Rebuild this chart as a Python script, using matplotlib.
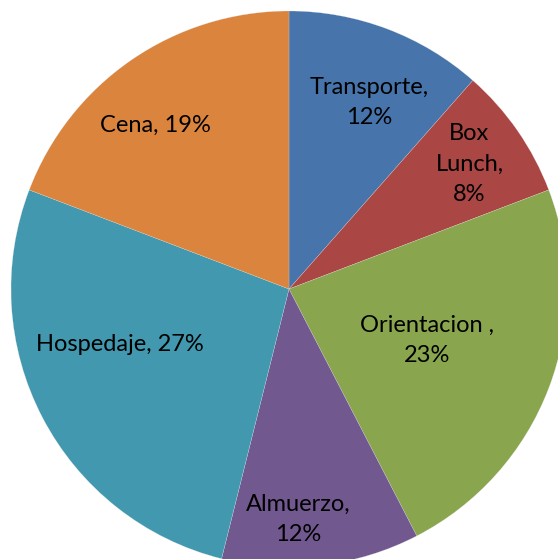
import matplotlib
matplotlib.use("Agg")
import matplotlib.pyplot as plt
import numpy as np

# slice data, clockwise from 12 o'clock
categories = ["Transporte", "Box Lunch", "Orientacion", "Almuerzo", "Hospedaje", "Cena"]
values = [11.5, 7.7, 23.2, 11.5, 26.9, 19.2]
label_texts = ["Transporte,\n12%", "Box\nLunch,\n8%", "Orientacion ,\n23%",
               "Almuerzo,\n12%", "Hospedaje, 27%", "Cena, 19%"]
colors = ["#4674AB", "#AA4643", "#89A54E", "#71588F", "#4198AF", "#DB843D"]

plt.rcParams['font.family'] = ['Lato', 'DejaVu Sans']

fig = plt.figure(figsize=(5.58, 5.59), dpi=100)
ax = fig.add_axes([11/558, -8/559, 556/558, 556/559])

wedges, _ = ax.pie(values, colors=colors, startangle=90, counterclock=False,
                   radius=1.0, wedgeprops=dict(edgecolor='#e8e8e8', linewidth=0.15))
for w in wedges:
    w.set_clip_on(False)

# label distances (fraction of radius) and small angle offsets
dists = [0.73, 0.79, 0.53, 0.83, 0.64, 0.76]
dang = [-2.6, 0, 0.5, -4.4, -9.5, 4.5]
for w, txt, d, da in zip(wedges, label_texts, dists, dang):
    mid = np.deg2rad((w.theta1 + w.theta2) / 2 + da)
    ax.text(d * np.cos(mid), d * np.sin(mid), txt, ha='center', va='center',
            fontsize=17, color='black', linespacing=1.55)

ax.set_xlim(-1, 1)
ax.set_ylim(-1, 1)
ax.set_aspect('auto')
ax.axis('off')

fig.savefig("out.png", dpi=100)
